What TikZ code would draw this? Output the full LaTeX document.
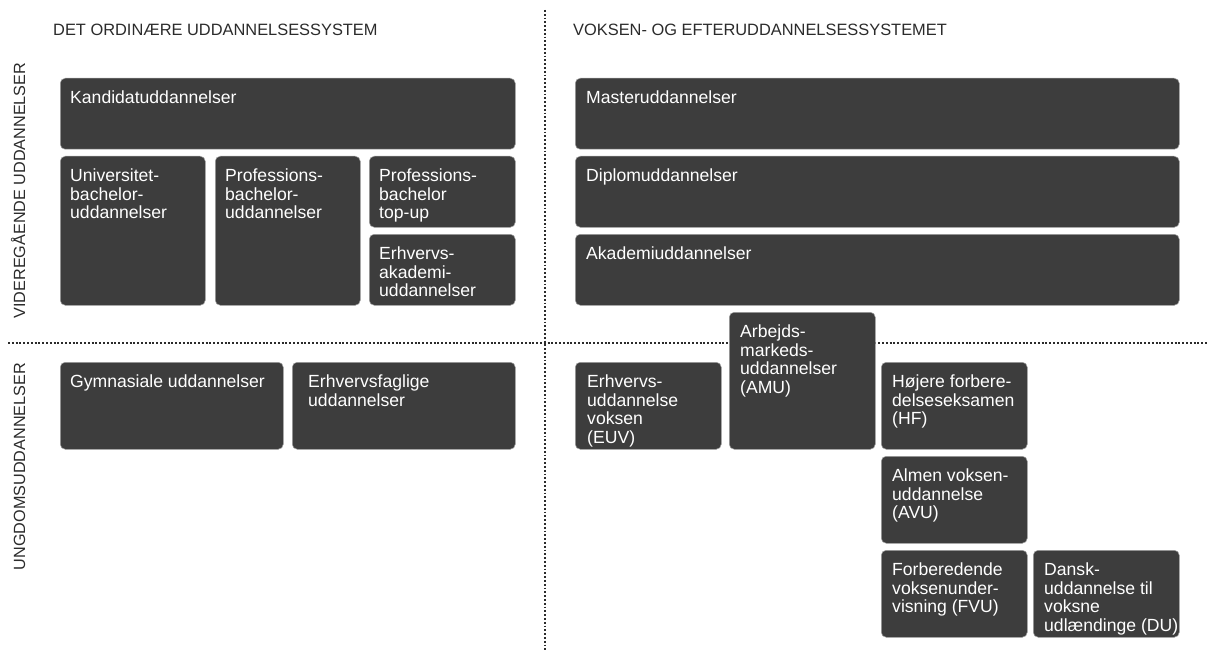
\documentclass[tikz,border=0pt]{standalone}
\usepackage{fontspec}
\setmainfont{Liberation Sans}
\usetikzlibrary{calc}
\definecolor{boxfill}{HTML}{3D3D3D}
\definecolor{boxedge}{HTML}{A0A0A0}
\definecolor{ink}{HTML}{2B2B2B}
\tikzset{
  ebox/.style={fill=boxfill, draw=boxedge, line width=0.5pt, rounded corners=5pt, inner sep=0pt, anchor=north west},
  etext/.style={text=white, align=left, inner sep=0pt, anchor=north west, font=\fontsize{17.6}{18.5}\selectfont},
  titletext/.style={text=ink, inner sep=0pt, anchor=base west, font=\fontsize{16.4}{18}\selectfont},
  sidetext/.style={text=ink, inner sep=0pt, rotate=90, anchor=base, font=\fontsize{16.2}{18}\selectfont},
  sepline/.style={draw=ink, line width=1.9pt, dash pattern=on 1.9pt off 1.9pt}
}
\newcommand\eduBox[7]{%
  \node[ebox, minimum width={(#4-#2)*1pt}, minimum height={(#5-#3)*1pt}] (#1) at (#2,#3) {};
  \node[etext] (#1-t) at ($(#1.north west)+(#6,12.7)$) {#7};
}
\begin{document}
\begin{tikzpicture}[x=1pt,y=-1pt]
\useasboundingbox[fill=white] (0,0) rectangle (1208,650);
% separators
\coordinate (vtop) at (545,10);
\coordinate (vbot) at (545,650);
\coordinate (hleft) at (8,343);
\coordinate (hright) at (1208,343);
\draw[sepline] (vtop) -- (vbot);
\draw[sepline] (hleft) -- (hright);
% titles
\node[titletext] (t1) at (53,36) {DET ORDINÆRE UDDANNELSESSYSTEM};
\node[titletext] (t2) at (573,36) {VOKSEN- OG EFTERUDDANNELSESSYSTEMET};
\node[sidetext] (s1) at (25,190.5) {VIDEREGÅENDE UDDANNELSER};
\node[sidetext] (s2) at (25,466.5) {UNGDOMSUDDANNELSER};
% upper left
\eduBox{kand}{60}{78}{515}{149}{10}{Kandidatuddannelser}
\eduBox{univ}{60}{156}{205}{305}{10}{Universitet-\\bachelor-\\uddannelser}
\eduBox{prof}{215}{156}{360}{305}{10}{Professions-\\bachelor-\\uddannelser}
\eduBox{topup}{369}{156}{515}{227}{10}{Professions-\\bachelor\\top-up}
\eduBox{erhak}{369}{234}{515}{305}{10}{Erhvervs-\\akademi-\\uddannelser}
% upper right
\eduBox{master}{575}{78}{1179}{149}{11}{Masteruddannelser}
\eduBox{diplom}{575}{156}{1179}{227}{11}{Diplomuddannelser}
\eduBox{akad}{575}{234}{1179}{305}{11}{Akademiuddannelser}
% lower left
\eduBox{gym}{60}{362}{283}{449}{10}{Gymnasiale uddannelser}
\eduBox{erhf}{292}{362}{515}{449}{16}{Erhvervsfaglige\\uddannelser}
% lower right
\eduBox{euv}{575}{362}{721}{449}{12}{Erhvervs-\\uddannelse\\voksen\\(EUV)}
\eduBox{amu}{729}{312}{875}{449}{11}{Arbejds-\\markeds-\\uddannelser\\(AMU)}
\eduBox{hf}{881}{362}{1027}{449}{11}{Højere forbere-\\delseseksamen\\(HF)}
\eduBox{avu}{881}{456}{1027}{543}{11}{Almen voksen-\\uddannelse\\(AVU)}
\eduBox{fvu}{881}{550}{1027}{637}{11}{Forberedende\\voksenunder-\\visning (FVU)}
\eduBox{du}{1033}{550}{1179}{637}{11}{Dansk-\\uddannelse til\\voksne\\udlændinge (DU)}
\end{tikzpicture}
\end{document}
